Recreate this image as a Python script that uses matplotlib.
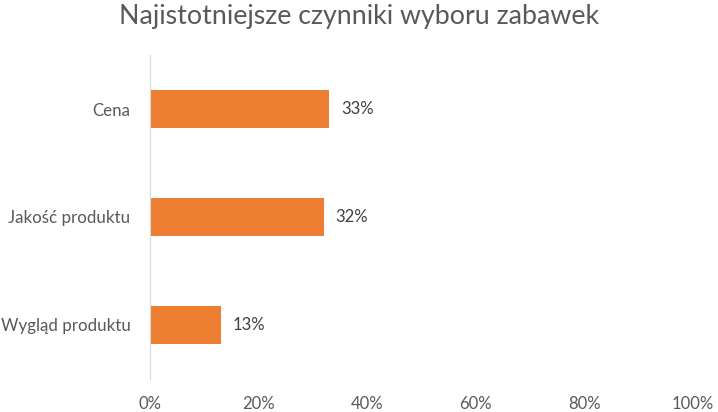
import matplotlib.pyplot as plt
from matplotlib.ticker import PercentFormatter

plt.rcParams['font.family'] = ['Lato', 'DejaVu Sans']

categories = ['Cena', 'Jakość produktu', 'Wygląd produktu']
values = [33, 32, 13]
xticks = [0, 20, 40, 60, 80, 100]

text_col = '#595959'
bar_col = '#ED7D31'

fig = plt.figure(figsize=(7.18, 4.12), dpi=100)
ax = fig.add_axes([150 / 718, 1 - 379 / 412, 543 / 718, 324 / 412])

ypos = list(range(len(categories)))[::-1]
bars = ax.barh(ypos, values, height=0.355, color=bar_col)
for b, v in zip(bars, values):
    ax.text(b.get_width() + 2.2, b.get_y() + b.get_height() / 2, f'{v}%',
            va='center', ha='left', fontsize=12, color='#404040')

ax.set_xlim(0, 100)
ax.set_ylim(-0.5, len(categories) - 0.5)
ax.set_yticks(ypos)
ax.set_yticklabels(categories, fontsize=12.2, color=text_col)
ax.set_xticks(xticks)
ax.xaxis.set_major_formatter(PercentFormatter(decimals=0))
ax.tick_params(axis='x', labelsize=12, colors=text_col, length=0, pad=12)
ax.tick_params(axis='y', length=0, pad=14)

for s in ['top', 'right', 'bottom']:
    ax.spines[s].set_visible(False)
ax.spines['left'].set_color('#D9D9D9')

fig.suptitle('Najistotniejsze czynniki wyboru zabawek', fontsize=19.3, color=text_col, y=0.99)

fig.savefig('out.png', dpi=100)
